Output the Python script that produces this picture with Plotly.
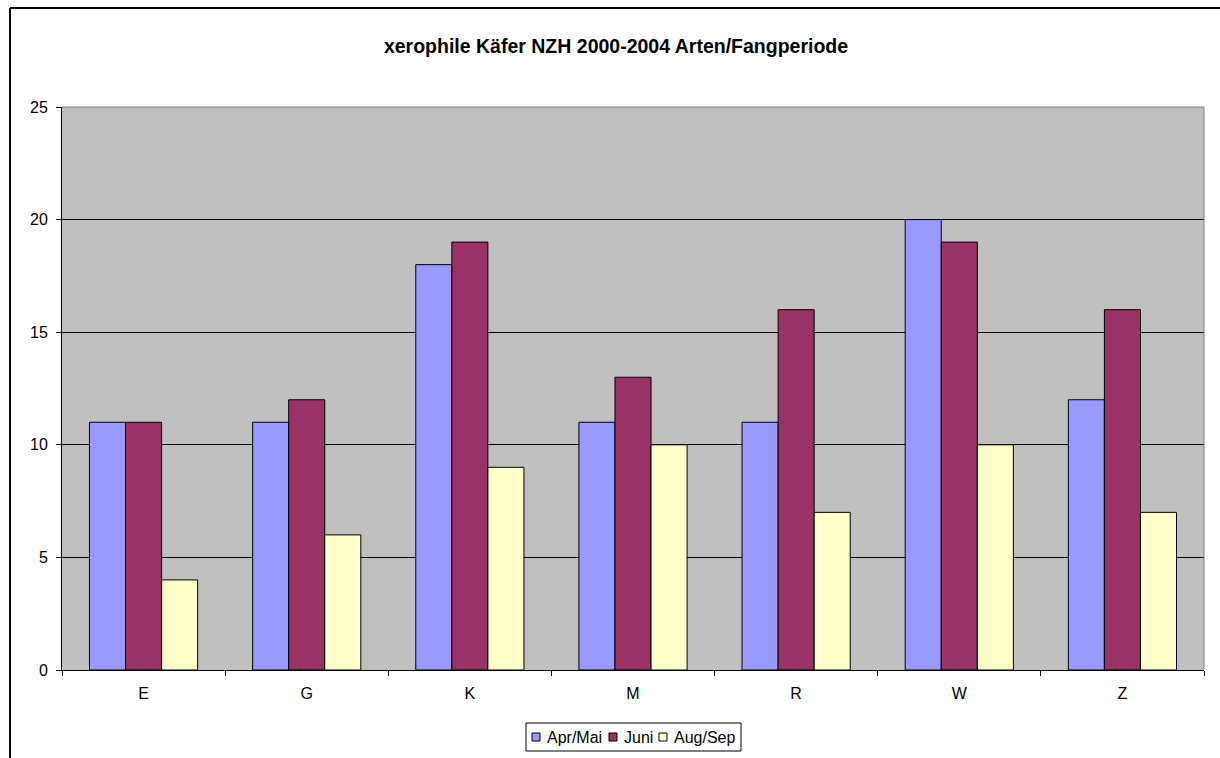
import plotly.graph_objects as go

categories = ["E", "G", "K", "M", "R", "W", "Z"]
apr_mai = [11, 11, 18, 11, 11, 20, 12]
juni = [11, 12, 19, 13, 16, 19, 16]
aug_sep = [4, 6, 9, 10, 7, 10, 7]
y_ticks = [0, 5, 10, 15, 20, 25]

FONT = "Liberation Sans, Arial, sans-serif"
W, H = 1220, 758
L, R, T, B = 62, 16, 107, 88
PW, PH = W - L - R, H - T - B


def px(x):
    return (x - L) / PW


def py(y):
    return (H - B - y) / PH


series = [
    ("Apr/Mai", apr_mai, "#9999FF"),
    ("Juni", juni, "#993366"),
    ("Aug/Sep", aug_sep, "#FFFFCC"),
]

fig = go.Figure()
for name, vals, color in series:
    fig.add_trace(go.Bar(
        x=categories, y=vals, name=name,
        marker=dict(color=color, line=dict(color="#000000", width=1)),
    ))

fig.update_layout(
    width=W, height=H,
    margin=dict(l=L, r=R, t=T, b=B),
    paper_bgcolor="#FFFFFF",
    plot_bgcolor="#C0C0C0",
    barmode="group",
    bargap=0.337,
    bargroupgap=0,
    showlegend=False,
    font=dict(family=FONT, size=16, color="#000000"),
    title=dict(
        text="<b>xerophile Käfer NZH 2000-2004 Arten/Fangperiode</b>",
        x=616 / W, xanchor="center",
        y=1 - 46 / H, yanchor="middle",
        font=dict(family=FONT, size=19.5, color="#000000"),
    ),
)

fig.update_xaxes(
    type="category",
    showline=True, linecolor="#000000", linewidth=1,
    ticks="outside", ticklen=5, tickcolor="#000000",
    tickson="boundaries",
    ticklabelstandoff=9,
    showgrid=False,
    tickfont=dict(family=FONT, size=16, color="#000000"),
)
fig.update_yaxes(
    range=[0, 25],
    tickvals=y_ticks,
    showline=True, linecolor="#000000", linewidth=1,
    ticks="outside", ticklen=5, tickcolor="#000000",
    ticklabelstandoff=5,
    showgrid=True, gridcolor="#000000", gridwidth=1,
    zeroline=False,
    tickfont=dict(family=FONT, size=16, color="#000000"),
)

# gray frame on top and right of the plot area
fig.add_shape(type="line", xref="paper", yref="paper", x0=0, x1=1, y0=1, y1=1,
              line=dict(color="#808080", width=1))
fig.add_shape(type="line", xref="paper", yref="paper", x0=1, x1=1, y0=0, y1=1,
              line=dict(color="#808080", width=1))

# outer chart border (left and top edges)
fig.add_shape(type="line", xref="paper", yref="paper",
              x0=px(10), x1=px(1240), y0=py(8), y1=py(8),
              line=dict(color="#000000", width=2))
fig.add_shape(type="line", xref="paper", yref="paper",
              x0=px(10), x1=px(10), y0=py(780), y1=py(8),
              line=dict(color="#000000", width=2))

# legend box with small square keys
fig.add_shape(type="rect", xref="paper", yref="paper",
              x0=px(526), x1=px(741), y0=py(751), y1=py(723),
              line=dict(color="#000000", width=1), fillcolor="#FFFFFF")
key_x = [532, 609, 659]
text_x = [545, 622, 672]
cy = 737
for (name, _, color), kx, tx in zip(series, key_x, text_x):
    fig.add_shape(type="rect", xref="paper", yref="paper",
                  x0=px(kx), x1=px(kx + 8), y0=py(cy + 4), y1=py(cy - 4),
                  line=dict(color="#000000", width=1), fillcolor=color)
    fig.add_annotation(x=px(tx), y=py(cy), xref="paper", yref="paper",
                       text=name, showarrow=False, xanchor="left", yanchor="middle",
                       font=dict(family=FONT, size=16, color="#000000"))

fig.write_html("out.html")
